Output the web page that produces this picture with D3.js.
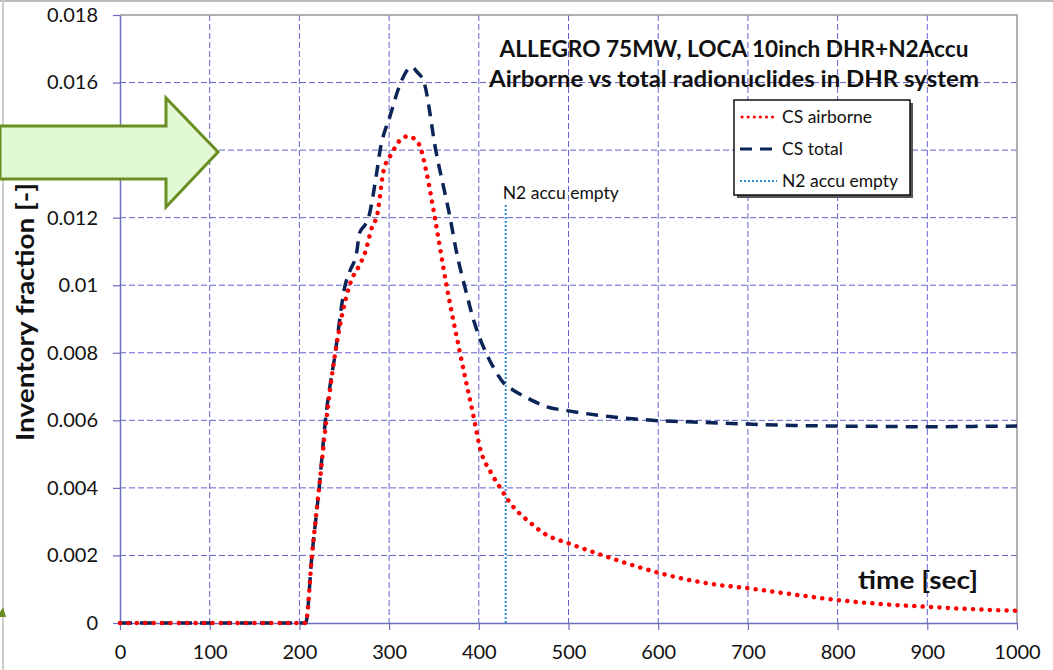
<!DOCTYPE html>
<html>
<head>
<meta charset="utf-8">
<script src="https://cdn.jsdelivr.net/npm/d3@7"></script>
<style>
  body { margin: 0; background: #fff; }
  svg { display: block; font-family: Lato, "Open Sans", sans-serif; }
</style>
</head>
<body>
<svg id="canvas" width="1053" height="670"></svg>
<script>
// time [sec] and inventory fraction
let airborneTime = [0, 100, 200, 207, 214, 222, 230, 240, 256, 269, 273, 282, 286, 294, 303, 312, 321, 333, 342, 351, 364, 379, 395, 401, 414, 424, 434, 459, 474, 500, 543, 567, 600, 661, 700, 747, 800, 849, 900, 949, 1000];
let airborneValue = [0, 0, 0, 0, 0.002, 0.004, 0.006, 0.008, 0.010, 0.0107, 0.01095, 0.0118, 0.012, 0.0134, 0.0139, 0.01429, 0.01441, 0.01419, 0.0133, 0.012, 0.010, 0.008, 0.006, 0.00522, 0.00443, 0.004, 0.00359, 0.00293, 0.00263, 0.00236, 0.00196, 0.00175, 0.00149, 0.00115, 0.00103, 0.00086, 0.00068, 0.00056, 0.00048, 0.00041, 0.00036];

let totalTime = [0, 100, 200, 207, 214, 222, 229, 240, 251, 256, 264, 267, 273, 277, 286, 290, 301, 313, 325, 331, 339, 352, 368, 375, 384, 395, 408, 416, 430, 438, 455, 476, 500, 550, 600, 650, 700, 750, 800, 850, 900, 950, 1000];
let totalValue = [0, 0, 0, 0, 0.002, 0.004, 0.006, 0.008, 0.010, 0.0104, 0.0110, 0.01154, 0.01178, 0.012, 0.0133, 0.014, 0.0150, 0.016, 0.01646, 0.01632, 0.016, 0.014, 0.012, 0.0110, 0.010, 0.0089, 0.008, 0.00758, 0.00704, 0.0069, 0.00665, 0.0064, 0.00628, 0.0061, 0.00599, 0.00594, 0.00589, 0.00585, 0.00583, 0.00582, 0.00581, 0.00582, 0.00583];

let n2EmptyTime = 430;

let xTicks = [0, 100, 200, 300, 400, 500, 600, 700, 800, 900, 1000];
let yTicks = [0, 0.002, 0.004, 0.006, 0.008, 0.010, 0.012, 0.014, 0.016, 0.018];
let yTickLabels = ["0", "0.002", "0.004", "0.006", "0.008", "0.01", "0.012", "0.014", "0.016", "0.018"];

let titleLines = ["ALLEGRO 75MW, LOCA 10inch DHR+N2Accu", "Airborne vs total radionuclides in DHR system"];
let legendNames = ["CS airborne", "CS total", "N2 accu empty"];

let canvas = d3.select("#canvas");

let xScale = d3.scaleLinear().domain([0, 1000]).range([120, 1017]);
let yScale = d3.scaleLinear().domain([0, 0.018]).range([623, 15]);

let gridColor = "#6262cc";

// frame bits at the page edge
canvas.append("line").attr("x1", 0).attr("x2", 1053).attr("y1", 1).attr("y2", 1)
  .attr("stroke", "#bbb").attr("stroke-width", 2);
canvas.append("line").attr("x1", 3).attr("x2", 3).attr("y1", 0).attr("y2", 670)
  .attr("stroke", "#ccc").attr("stroke-width", 2);

// grid
canvas.append("g")
  .selectAll("line")
  .data(xTicks.slice(1, -1))
  .enter()
  .append("line")
  .attr("x1", (d) => xScale(d))
  .attr("x2", (d) => xScale(d))
  .attr("y1", yScale(0.018))
  .attr("y2", yScale(0))
  .attr("stroke", gridColor)
  .attr("stroke-width", 1)
  .attr("stroke-dasharray", "6 3");

canvas.append("g")
  .selectAll("line")
  .data(yTicks.slice(1, -1))
  .enter()
  .append("line")
  .attr("x1", xScale(0))
  .attr("x2", xScale(1000))
  .attr("y1", (d) => yScale(d))
  .attr("y2", (d) => yScale(d))
  .attr("stroke", gridColor)
  .attr("stroke-width", 1)
  .attr("stroke-dasharray", "6 3");

// plot border top/right
canvas.append("path")
  .attr("d", "M" + xScale(0) + "," + yScale(0.018) + "H" + xScale(1000) + "V" + yScale(0))
  .attr("fill", "none")
  .attr("stroke", "#999")
  .attr("stroke-width", 1.5);

// axes
let xAxis = canvas.append("g")
  .attr("transform", "translate(0," + yScale(0) + ")")
  .call(d3.axisBottom(xScale).tickValues(xTicks).tickSize(7).tickSizeOuter(0)
    .tickFormat(d3.format("d")));
let yAxis = canvas.append("g")
  .attr("transform", "translate(" + xScale(0) + ",0)")
  .call(d3.axisLeft(yScale).tickValues(yTicks).tickSize(7).tickSizeOuter(0)
    .tickFormat((d, i) => yTickLabels[i]));

[xAxis, yAxis].forEach((axis) => {
  axis.select(".domain").attr("stroke", "#6e6ebe").attr("stroke-width", 1.5);
  axis.selectAll(".tick line").attr("stroke", "#6e6ebe").attr("stroke-width", 1.2);
  axis.selectAll("text")
    .attr("fill", "#111")
    .style("font-size", "20px")
    .style("font-family", "Lato, sans-serif");
});
xAxis.selectAll("text").attr("y", 22);
yAxis.selectAll("text").attr("x", -22);

// N2 accu empty marker
canvas.append("line")
  .attr("x1", xScale(n2EmptyTime))
  .attr("x2", xScale(n2EmptyTime))
  .attr("y1", yScale(0))
  .attr("y2", 205)
  .attr("stroke", "#2a8bd0")
  .attr("stroke-width", 2)
  .attr("stroke-dasharray", "2 2");

canvas.append("text")
  .text("N2 accu empty")
  .attr("x", xScale(n2EmptyTime) - 3)
  .attr("y", 199)
  .attr("fill", "#111")
  .style("font-size", "17.5px");

// series
let airborneData = airborneTime.map((t, i) => [t, airborneValue[i]]);
let totalData = totalTime.map((t, i) => [t, totalValue[i]]);

let lineMaker = d3.line()
  .x((d) => xScale(d[0]))
  .y((d) => yScale(d[1]))
  .curve(d3.curveMonotoneX);

canvas.append("path")
  .attr("d", lineMaker(totalData))
  .attr("fill", "none")
  .attr("stroke", "#0b2457")
  .attr("stroke-width", 3.5)
  .attr("stroke-dasharray", "12 8");

canvas.append("path")
  .attr("d", lineMaker(airborneData))
  .attr("fill", "none")
  .attr("stroke", "#ff0000")
  .attr("stroke-width", 4.5)
  .attr("stroke-linecap", "round")
  .attr("stroke-dasharray", "0.1 8.3");

// title
let titleWidths = [469, 490];
canvas.append("g")
  .selectAll("text")
  .data(titleLines)
  .enter()
  .append("text")
  .text((d) => d)
  .attr("x", 734)
  .attr("y", (d, i) => 57 + i * 30)
  .attr("text-anchor", "middle")
  .attr("textLength", (d, i) => titleWidths[i])
  .attr("lengthAdjust", "spacingAndGlyphs")
  .attr("fill", "#111")
  .style("font-size", "22.5px")
  .style("font-weight", "bold");

// legend
let legend = canvas.append("g").attr("transform", "translate(734,100)");
legend.append("rect")
  .attr("x", 3).attr("y", 3).attr("width", 176).attr("height", 95)
  .attr("fill", "#555");
legend.append("rect")
  .attr("width", 176).attr("height", 95)
  .attr("fill", "#fff")
  .attr("stroke", "#111")
  .attr("stroke-width", 1.5);

let legendStyles = [
  { color: "#ff0000", width: 3, dash: "0.1 6", cap: "round" },
  { color: "#0b2457", width: 3, dash: "12 8", cap: "butt" },
  { color: "#2a8bd0", width: 1.8, dash: "2 2", cap: "butt" }
];

let entry = legend.selectAll(".entry")
  .data(legendNames)
  .enter()
  .append("g")
  .attr("transform", (d, i) => "translate(0," + (17 + i * 32) + ")");

entry.append("line")
  .attr("x1", (d, i) => (i === 0 ? 8 : 6))
  .attr("x2", 43)
  .attr("y1", 0)
  .attr("y2", 0)
  .attr("stroke", (d, i) => legendStyles[i].color)
  .attr("stroke-width", (d, i) => legendStyles[i].width)
  .attr("stroke-dasharray", (d, i) => legendStyles[i].dash)
  .attr("stroke-linecap", (d, i) => legendStyles[i].cap);

entry.append("text")
  .text((d) => d)
  .attr("x", 48)
  .attr("y", 6)
  .attr("fill", "#111")
  .style("font-size", "17.5px");

// axis titles
canvas.append("text")
  .text("time [sec]")
  .attr("x", 918)
  .attr("y", 589)
  .attr("text-anchor", "middle")
  .attr("textLength", 120)
  .attr("lengthAdjust", "spacingAndGlyphs")
  .attr("fill", "#111")
  .style("font-size", "24px")
  .style("font-weight", "bold");

canvas.append("text")
  .text("Inventory fraction [-]")
  .attr("transform", "translate(34,312) rotate(-90)")
  .attr("text-anchor", "middle")
  .attr("textLength", 258)
  .attr("lengthAdjust", "spacingAndGlyphs")
  .attr("fill", "#111")
  .style("font-size", "24px")
  .style("font-weight", "bold");

// green block arrow on the left
let arrowPoints = [[0, 126], [166, 126], [166, 98], [218, 152], [166, 207], [166, 179], [0, 179]];
canvas.append("path")
  .attr("d", d3.line()(arrowPoints) + "Z")
  .attr("fill", "#e2f9d5")
  .attr("stroke", "#6b8e23")
  .attr("stroke-width", 3)
  .attr("stroke-linejoin", "miter");

let smallTriangle = [[3, 607], [-3, 617], [6, 617]];
canvas.append("path")
  .attr("d", d3.line()(smallTriangle) + "Z")
  .attr("fill", "#6b8e23");
</script>
</body>
</html>
